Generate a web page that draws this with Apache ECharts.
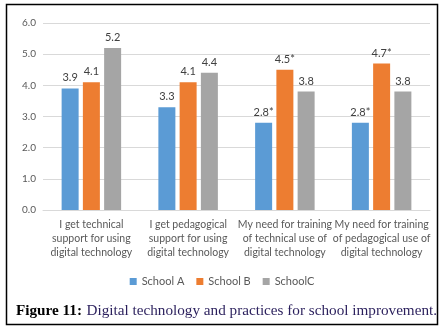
<!DOCTYPE html>
<html>
<head>
<meta charset="utf-8">
<script src="https://cdn.jsdelivr.net/npm/echarts@6/dist/echarts.min.js"></script>
<style>
  html, body { margin: 0; padding: 0; background: #fff; }
  #chart { width: 444px; height: 333px; }
</style>
</head>
<body>
<div id="chart"></div>
<script>
const categories = [
    'I get technical\nsupport for using\ndigital technology',
    'I get pedagogical\nsupport for using\ndigital technology',
    'My need for training\nof technical use of\ndigital technology',
    'My need for training\nof pedagogical use of\ndigital technology'
]
const seriesNames = ['School A', 'School B', 'SchoolC']
const schoolA = [3.9, 3.3, 2.8, 2.8]
const schoolB = [4.1, 4.1, 4.5, 4.7]
const schoolC = [5.2, 4.4, 3.8, 3.8]
// significance marks shown after the value
const starsA = ['', '', '*', '*']
const starsB = ['', '', '*', '*']
const starsC = ['', '', '', '']
const yTicks = [0, 1, 2, 3, 4, 5, 6]

const colors = ['#5B9BD5', '#ED7D31', '#A5A5A5']
const font = 'Lato, "Open Sans", sans-serif'
const serif = '"Liberation Serif", "DejaVu Serif", serif'

const chart = echarts.init(document.getElementById('chart'))

function makeSeries(name, values, stars, color) {
    return {
        name: name,
        type: 'bar',
        data: values,
        barWidth: 17,
        barGap: '25%',
        itemStyle: { color: color },
        label: {
            show: true,
            position: 'top',
            distance: 5,
            color: '#404040',
            fontFamily: font,
            fontSize: 11,
            formatter: p => p.value.toFixed(1) + stars[p.dataIndex]
        }
    }
}

chart.setOption({
    animation: false,
    textStyle: { fontFamily: font },
    grid: { left: 43, right: 14, top: 23, bottom: 123 },
    legend: {
        data: seriesNames,
        top: 271,
        left: 'center',
        itemWidth: 7,
        itemHeight: 7,
        itemGap: 12,
        icon: 'rect',
        textStyle: { color: '#595959', fontSize: 11, fontFamily: font }
    },
    title: {
        text: '{b|Figure 11:} {n|Digital technology and practices for school improvement.}',
        left: 11,
        top: 297,
        textStyle: {
            fontWeight: 'normal',
            rich: {
                b: { fontFamily: serif, fontWeight: 'bold', fontSize: 15.2, color: '#000' },
                n: { fontFamily: serif, fontWeight: 'normal', fontSize: 15.2, color: '#2a1f5c' }
            }
        }
    },
    xAxis: {
        type: 'category',
        data: categories,
        axisLine: { lineStyle: { color: '#d9d9d9' } },
        axisTick: { show: false },
        axisLabel: {
            interval: 0,
            color: '#595959',
            fontSize: 10.5,
            lineHeight: 14,
            margin: 8,
            fontFamily: font
        }
    },
    yAxis: {
        type: 'value',
        min: yTicks[0],
        max: yTicks[yTicks.length - 1],
        interval: 1,
        axisLine: { show: false },
        axisTick: { show: false },
        splitLine: { lineStyle: { color: '#d9d9d9' } },
        axisLabel: {
            color: '#595959',
            fontSize: 10,
            margin: 7,
            fontFamily: font,
            formatter: v => v.toFixed(1)
        }
    },
    series: [
        makeSeries(seriesNames[0], schoolA, starsA, colors[0]),
        makeSeries(seriesNames[1], schoolB, starsB, colors[1]),
        makeSeries(seriesNames[2], schoolC, starsC, colors[2])
    ],
    graphic: [{
        type: 'rect',
        shape: { x: 6.5, y: 4.5, width: 431, height: 320 },
        style: { fill: null, stroke: '#000', lineWidth: 1.5 },
        silent: true
    }]
})
</script>
</body>
</html>
